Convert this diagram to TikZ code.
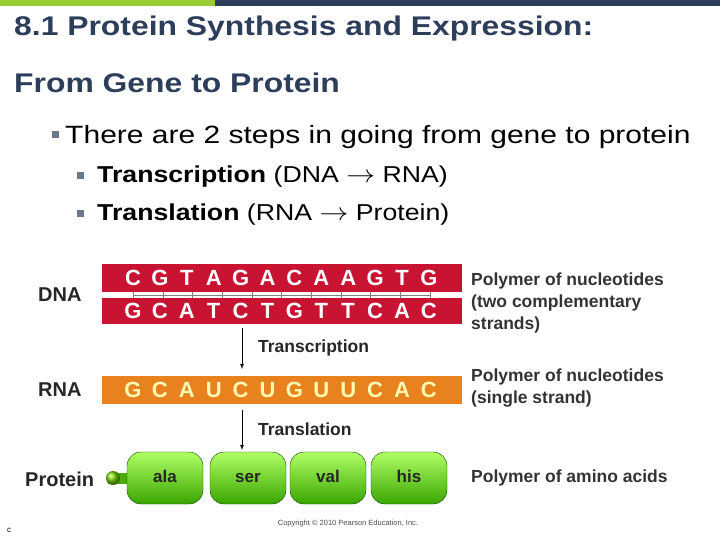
\documentclass[tikz,border=0pt]{standalone}
\usepackage{fontspec}
\setmainfont{Liberation Sans}
\begin{document}
\begin{tikzpicture}[x=1pt,y=-1pt,
 lab/.style={font=\fontsize{20}{20}\selectfont\bfseries,text=black!85,anchor=west,inner sep=0},
 rt/.style={font=\fontsize{17.5}{22}\selectfont\bfseries,text=black!80,anchor=north west,align=left,inner sep=0},
 base/.style={font=\fontsize{22}{22}\selectfont\bfseries,text=white,inner sep=0},
 bead/.style={draw=green!30!black,top color=green!35!lime!60!white,bottom color=green!50!black!70!lime,rounded corners=14pt,minimum width=76pt,minimum height=52pt,text height=12pt,text depth=3pt,font=\fontsize{17}{17}\selectfont\bfseries,text=black!85},
 arr/.style={-latex,thick}]
\useasboundingbox (0,0) rectangle (720,540);
\definecolor{navy}{RGB}{44,62,90}
\fill[green!50!black!50!yellow!80] (0,0) rectangle (215,6);
\fill[navy] (215,0) rectangle (720,6);
\node[anchor=west,text=navy,font=\fontsize{27}{27}\selectfont\bfseries,inner sep=0,xscale=1.18] (t1) at (14,29) {8.1 Protein Synthesis and Expression:};
\node[anchor=west,text=navy,font=\fontsize{27}{27}\selectfont\bfseries,inner sep=0,xscale=1.18] (t2) at (14,83) {From Gene to Protein};
\node[anchor=west,text=black,font=\fontsize{25}{25}\selectfont,inner sep=0,xscale=1.2] (b1) at (65,137) {There are 2 steps in going from gene to protein};
\fill[navy!70] (52,131) rectangle (59,138);
\node[anchor=west,text=black,font=\fontsize{23}{23}\selectfont,inner sep=0,xscale=1.16] (b2) at (97,177) {\textbf{Transcription} (DNA $\rightarrow$ RNA)};
\node[anchor=west,text=black,font=\fontsize{23}{23}\selectfont,inner sep=0,xscale=1.16] (b3) at (97,215) {\textbf{Translation} (RNA $\rightarrow$ Protein)};
\fill[navy!70] (77,172) rectangle (84,179);
\fill[navy!70] (77,210) rectangle (84,217);
% DNA
\definecolor{dred}{RGB}{200,20,50}
\definecolor{rorange}{RGB}{232,130,30}
\fill[dred] (102,264) rectangle (462,292);
\fill[dred] (102,298) rectangle (462,324);
\fill[white] (102,292) rectangle (462,298);
\foreach \i in {0,...,10} {\draw[gray] (133+29.7*\i,292) -- (133+29.7*\i,298);}
\draw[gray] (133,295)--(430,295);
\foreach \c [count=\i from 0] in {C,G,T,A,G,A,C,A,A,G,T,G}{\node[base] at (133+26.9*\i,278) {\c};}
\foreach \c [count=\i from 0] in {G,C,A,T,C,T,G,T,T,C,A,C}{\node[base] at (133+26.9*\i,311) {\c};}
\fill[rorange] (102,376) rectangle (462,404);
\foreach \c [count=\i from 0] in {G,C,A,U,C,U,G,U,U,C,A,C}{\node[base,text=yellow!30] at (133+26.9*\i,390) {\c};}
\node[lab] (dna) at (38,295) {DNA};
\node[lab] (rna) at (38,390) {RNA};
\node[lab] (prot) at (25,479) {Protein};
\coordinate (a1) at (242,328); \coordinate (a2) at (242,369);
\draw[arr] (a1) -- (a2);
\node[lab,font=\fontsize{17.5}{17.5}\selectfont\bfseries] (tr) at (258,348) {Transcription};
\coordinate (a3) at (242,410); \coordinate (a4) at (242,450);
\draw[arr] (a3) -- (a4);
\node[lab,font=\fontsize{17.5}{17.5}\selectfont\bfseries] (tl) at (258,429) {Translation};
% protein
\fill[green!45!black!60!lime] (108,473) rectangle (130,484);
\shade[ball color=green!60!black!40!lime] (113,478) circle (7);
\node[bead] (p1) at (165,478) {ala};
\node[bead] (p2) at (248,478) {ser};
\node[bead] (p3) at (328,478) {val};
\node[bead] (p4) at (409,478) {his};
\node[rt] (r1) at (471,273) {Polymer of nucleotides\\(two complementary\\strands)};
\node[rt] (r2) at (471,369) {Polymer of nucleotides\\(single strand)};
\node[rt] (r3) at (471,470) {Polymer of amino acids};
\node[font=\fontsize{7.5}{7.5}\selectfont,text=black!70] (cp) at (348,524) {Copyright \textcopyright{} 2010 Pearson Education, Inc.};
\node[font=\fontsize{8}{8}\selectfont] (c) at (9,530) {c};
\end{tikzpicture}
\end{document}
